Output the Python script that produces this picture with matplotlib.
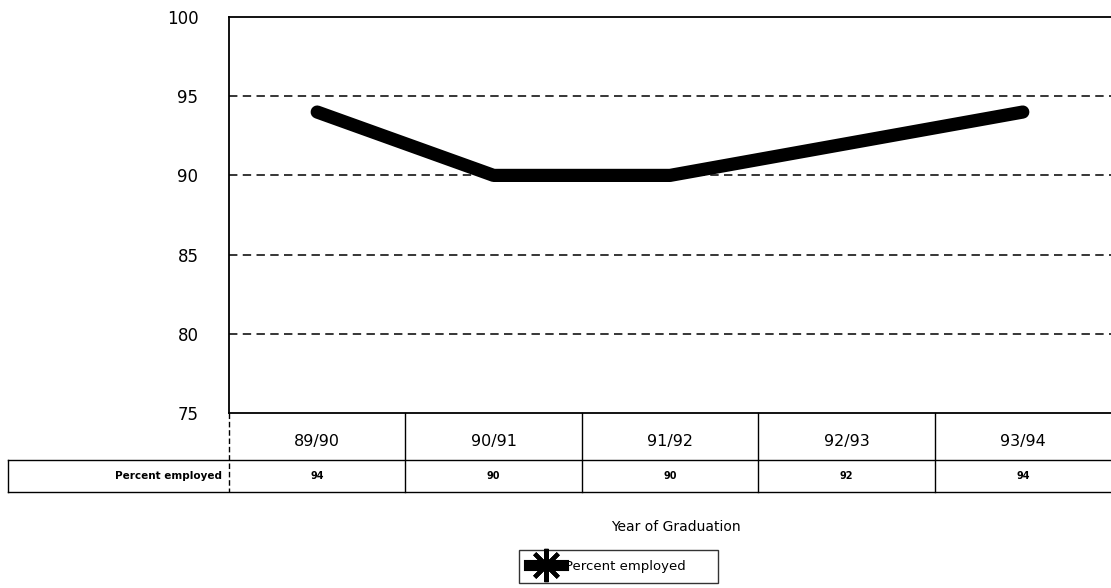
import matplotlib
matplotlib.use('Agg')
from matplotlib import pyplot as plt
import matplotlib.transforms as mtransforms

years = ['89/90', '90/91', '91/92', '92/93', '93/94']
percent_employed = [94, 90, 90, 92, 94]
series_name = 'Percent employed'
y_ticks = [75, 80, 85, 90, 95, 100]

plt.rcParams['font.family'] = ['DejaVu Sans']

fig = plt.figure(figsize=(11.11, 5.88), dpi=100)
ax = fig.add_axes([229 / 1111, 175 / 588, 882 / 1111, 396 / 588])

x = list(range(len(years)))
ax.plot(x, percent_employed, color='black', linewidth=9.5, solid_capstyle='round',
        solid_joinstyle='round', zorder=3)

ax.set_xlim(-0.5, len(years) - 0.5)
ax.set_ylim(75, 100)
ax.set_yticks(y_ticks)
ax.set_yticklabels([str(t) for t in y_ticks], fontsize=12)
ax.tick_params(axis='y', length=0, pad=22)
ax.set_xticks([])
for t in y_ticks[1:-1]:
    ax.axhline(t, color='black', linestyle=(0, (5.5, 3.5)), linewidth=1.1, zorder=1)
ax.spines['right'].set_visible(False)
for s in ['left', 'top', 'bottom']:
    ax.spines[s].set_linewidth(1.3)

# data table under the chart
trans = mtransforms.blended_transform_factory(ax.transData, ax.transAxes)
row1 = -47 / 396
row2 = -79 / 396
for i, (yr, val) in enumerate(zip(years, percent_employed)):
    ax.text(i, row1 / 2 - 0.012, yr, transform=trans, ha='center', va='center', fontsize=11.5)
    ax.text(i, (row1 + row2) / 2, str(val), transform=trans, ha='center', va='center',
            fontsize=7, fontweight='bold')
for b in [i + 0.5 for i in range(len(years) - 1)]:
    ax.plot([b, b], [0, row2], transform=trans, color='black', linewidth=1, clip_on=False)
ax.plot([-0.5, -0.5], [0, row2], transform=trans, color='black', linewidth=1,
        linestyle=(0, (4, 2)), clip_on=False)

# data row box spanning label cell
figx = mtransforms.blended_transform_factory(fig.transFigure, ax.transAxes)
x0 = 8 / 1111
ax.plot([x0, 1], [row1, row1], transform=figx, color='black', linewidth=1, clip_on=False)
ax.plot([x0, 1], [row2, row2], transform=figx, color='black', linewidth=1, clip_on=False)
ax.plot([x0, x0], [row1, row2], transform=figx, color='black', linewidth=1, clip_on=False)
ax.text(222 / 1111, (row1 + row2) / 2, series_name, transform=figx, ha='right', va='center',
        fontsize=7.5, fontweight='bold')

fig.text(676 / 1111, 1 - 527 / 588, 'Year of Graduation', ha='center', va='center', fontsize=10)

handle = plt.Line2D([], [], color='black', linewidth=8, marker=(8, 2, 0),
                    markersize=24, markeredgewidth=3)
leg = fig.legend([handle], [series_name], loc='center left',
                 bbox_to_anchor=(519 / 1111, 3 / 588, 199 / 1111, 37 / 588), mode='expand',
                 fontsize=9.5, frameon=True, fancybox=False, handlelength=2.6,
                 handletextpad=0.15, borderpad=0.75, borderaxespad=0)
leg.get_frame().set_edgecolor('black')
leg.get_frame().set_linewidth(1)

fig.savefig('out.png', dpi=100, facecolor='white')
